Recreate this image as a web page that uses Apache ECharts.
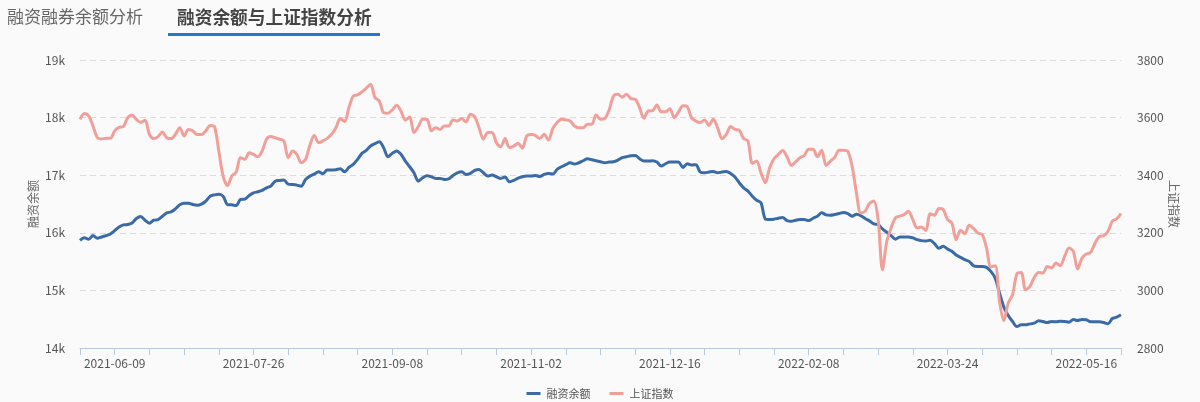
<!DOCTYPE html>
<html>
<head>
<meta charset="utf-8">
<script src="https://cdn.jsdelivr.net/npm/echarts@6/dist/echarts.min.js"></script>
<style>
  html, body { margin: 0; padding: 0; background: #fafafa; }
  body { width: 1200px; height: 402px; position: relative; overflow: hidden;
         font-family: "Microsoft YaHei", "Noto Sans CJK SC", sans-serif; }
  #chart { position: absolute; left: 0; top: 0; width: 1200px; height: 402px; }
  .tab { position: absolute; top: 6px; line-height: 20px; white-space: nowrap; }
  #tab1 { left: 7px; font-size: 17px; color: #666; }
  #tab2 { left: 177px; font-size: 17.7px; color: #444; font-weight: bold; }
  #tabline { position: absolute; left: 168px; top: 33px; width: 212px; height: 3px; background: #2379c8; }
</style>
</head>
<body>
<div id="chart"></div>
<div class="tab" id="tab1">融资融券余额分析</div>
<div class="tab" id="tab2">融资余额与上证指数分析</div>
<div id="tabline"></div>
<script>
// Trading days by month (day numbers)
const tradingDays = [
  ["2021-05", [28, 31]],
  ["2021-06", [1, 2, 3, 4, 7, 8, 9, 10, 11, 15, 16, 17, 18, 21, 22, 23, 24, 25, 28, 29, 30]],
  ["2021-07", [1, 2, 5, 6, 7, 8, 9, 12, 13, 14, 15, 16, 19, 20, 21, 22, 23, 26, 27, 28, 29, 30]],
  ["2021-08", [2, 3, 4, 5, 6, 9, 10, 11, 12, 13, 16, 17, 18, 19, 20, 23, 24, 25, 26, 27, 30, 31]],
  ["2021-09", [1, 2, 3, 6, 7, 8, 9, 10, 13, 14, 15, 16, 17, 22, 23, 24, 27, 28, 29, 30]],
  ["2021-10", [8, 11, 12, 13, 14, 15, 18, 19, 20, 21, 22, 25, 26, 27, 28, 29]],
  ["2021-11", [1, 2, 3, 4, 5, 8, 9, 10, 11, 12, 15, 16, 17, 18, 19, 22, 23, 24, 25, 26, 29, 30]],
  ["2021-12", [1, 2, 3, 6, 7, 8, 9, 10, 13, 14, 15, 16, 17, 20, 21, 22, 23, 24, 27, 28, 29, 30, 31]],
  ["2022-01", [4, 5, 6, 7, 10, 11, 12, 13, 14, 17, 18, 19, 20, 21, 24, 25, 26, 27, 28]],
  ["2022-02", [7, 8, 9, 10, 11, 14, 15, 16, 17, 18, 21, 22, 23, 24, 25, 28]],
  ["2022-03", [1, 2, 3, 4, 7, 8, 9, 10, 11, 14, 15, 16, 17, 18, 21, 22, 23, 24, 25, 28, 29, 30, 31]],
  ["2022-04", [1, 6, 7, 8, 11, 12, 13, 14, 15, 18, 19, 20, 21, 22, 25, 26, 27, 28, 29]],
  ["2022-05", [5, 6, 9, 10, 11, 12, 13, 16, 17, 18, 19, 20, 23, 24, 25, 26]]
];
const categories = [];
tradingDays.forEach(function (m) {
  m[1].forEach(function (d) { categories.push(m[0] + "-" + (d < 10 ? "0" + d : "" + d)); });
});

// 融资余额
const marginBalance = [
  15870, 15916, 15887, 15951, 15905, 15928, 15951, 15980, 16038, 16102,
  16137, 16143, 16172, 16247, 16282, 16218, 16166, 16218, 16230, 16288,
  16346, 16363, 16416, 16485, 16514, 16514, 16491, 16479, 16497, 16549,
  16636, 16659, 16671, 16636, 16491, 16485, 16474, 16578, 16584, 16648,
  16694, 16712, 16735, 16781, 16810, 16897, 16909, 16915, 16845, 16839,
  16828, 16810, 16926, 16984, 17019, 17060, 17025, 17089, 17089, 17095,
  17112, 17060, 17135, 17187, 17275, 17379, 17431, 17507, 17547, 17582,
  17478, 17321, 17379, 17420, 17362, 17245, 17147, 17042, 16897, 16955,
  16990, 16973, 16944, 16944, 16926, 16938, 16996, 17042, 17060, 17013,
  17031, 17083, 17100, 17042, 16984, 17002, 16973, 16944, 16967, 16886,
  16909, 16949, 16973, 16984, 16984, 16996, 16978, 17013, 17031, 17019,
  17100, 17147, 17182, 17216, 17193, 17216, 17251, 17286, 17269, 17251,
  17234, 17216, 17228, 17234, 17263, 17304, 17321, 17338, 17344, 17286,
  17245, 17245, 17251, 17228, 17158, 17199, 17228, 17228, 17228, 17135,
  17199, 17176, 17182, 17054, 17042, 17054, 17066, 17042, 17054, 17066,
  17031, 16967, 16868, 16781, 16723, 16636, 16566, 16520, 16241, 16230,
  16236, 16253, 16265, 16212, 16201, 16218, 16230, 16230, 16212, 16253,
  16288, 16346, 16311, 16305, 16317, 16334, 16352, 16334, 16288, 16323,
  16299, 16247, 16207, 16154, 16143, 16067, 16009, 15951, 15887, 15928,
  15928, 15928, 15911, 15882, 15864, 15858, 15870, 15812, 15731, 15765,
  15719, 15678, 15614, 15574, 15533, 15504, 15429, 15417, 15417, 15400,
  15330, 15214, 14953, 14709, 14564, 14460, 14372, 14402, 14402, 14419,
  14431, 14471, 14460, 14442, 14460, 14454, 14466, 14460, 14448, 14494,
  14477, 14494, 14489, 14454, 14454, 14454, 14442, 14419, 14512, 14535,
  14576
];

// 上证指数
const shIndex = [
  3594, 3614, 3606, 3571, 3530, 3526, 3528, 3528, 3554, 3566,
  3569, 3600, 3609, 3594, 3583, 3591, 3542, 3527, 3534, 3550,
  3530, 3527, 3542, 3565, 3536, 3559, 3554, 3541, 3541, 3554,
  3573, 3569, 3484, 3397, 3364, 3397, 3411, 3461, 3455, 3478,
  3472, 3464, 3484, 3525, 3534, 3530, 3525, 3519, 3461, 3484,
  3472, 3443, 3455, 3504, 3538, 3513, 3519, 3528, 3542, 3565,
  3597, 3586, 3635, 3675, 3679, 3689, 3702, 3716, 3670, 3658,
  3617, 3615, 3627, 3643, 3623, 3591, 3602, 3548, 3569, 3594,
  3594, 3554, 3565, 3559, 3571, 3571, 3592, 3588, 3597, 3585,
  3612, 3603, 3565, 3525, 3548, 3548, 3513, 3499, 3527, 3496,
  3501, 3511, 3494, 3536, 3541, 3538, 3527, 3542, 3522, 3562,
  3583, 3594, 3592, 3588, 3571, 3565, 3565, 3577, 3577, 3609,
  3594, 3597, 3627, 3675, 3681, 3671, 3681, 3666, 3664, 3635,
  3598, 3623, 3624, 3644, 3620, 3620, 3631, 3600, 3620, 3641,
  3638, 3599, 3588, 3583, 3592, 3573, 3594, 3565, 3527, 3542,
  3569, 3559, 3556, 3527, 3519, 3441, 3449, 3408, 3374, 3426,
  3457, 3472, 3486, 3464, 3434, 3446, 3461, 3469, 3490, 3490,
  3464, 3487, 3434, 3449, 3462, 3487, 3487, 3483, 3432, 3339,
  3269, 3275, 3302, 3310, 3246, 3072, 3170, 3217, 3252, 3258,
  3263, 3275, 3246, 3217, 3220, 3208, 3266, 3261, 3284, 3281,
  3246, 3234, 3176, 3209, 3197, 3226, 3215, 3199, 3194, 3147,
  3081, 3086, 2961, 2895, 2956, 2985, 3058, 3062, 3002, 3014,
  3045, 3062, 3060, 3083, 3078, 3095, 3086, 3118, 3147, 3136,
  3074, 3112, 3126, 3132, 3164, 3187, 3190, 3205, 3241, 3248,
  3267
];

const seriesNames = ["融资余额", "上证指数"];
const axisNames = ["融资余额", "上证指数"];

const FONT = '"Microsoft YaHei", "Noto Sans CJK SC", sans-serif';
const chart = echarts.init(document.getElementById('chart'), null, { renderer: 'canvas' });
chart.setOption({
  backgroundColor: '#fafafa',
  animation: false,
  textStyle: { fontFamily: FONT },
  grid: { left: 80, right: 79, top: 60, height: 288 },
  legend: {
    data: seriesNames,
    top: 383,
    left: 'center',
    icon: 'rect',
    itemWidth: 14,
    itemHeight: 3,
    itemGap: 19,
    textStyle: { fontSize: 11, color: '#555', fontFamily: FONT, padding: [0, 0, 0, 1] }
  },
  xAxis: {
    type: 'category',
    data: categories,
    boundaryGap: false,
    axisLine: { lineStyle: { color: '#b7cade', width: 1 } },
    axisTick: {
      show: true,
      length: 7,
      interval: function (idx) { return idx % 8 === 0; },
      lineStyle: { color: '#b7cade' }
    },
    axisLabel: {
      interval: function (idx) { return idx % 32 === 8; },
      color: '#555',
      fontSize: 12,
      margin: 9,
      fontFamily: FONT
    },
    splitLine: { show: false }
  },
  yAxis: [
    {
      type: 'value',
      name: axisNames[0],
      nameLocation: 'middle',
      nameGap: 41,
      nameMoveOverlap: false,
      nameTextStyle: { color: '#666', fontSize: 12, fontFamily: FONT },
      min: 14000, max: 19000, interval: 1000,
      axisLine: { show: false },
      axisTick: { show: false },
      axisLabel: {
        color: '#555', fontSize: 12, margin: 15, fontFamily: FONT,
        formatter: function (v) { return (v / 1000) + 'k'; }
      },
      splitLine: { show: true, lineStyle: { color: '#dcdcdc', type: [6, 4], width: 1 } }
    },
    {
      type: 'value',
      name: axisNames[1],
      nameLocation: 'middle',
      nameGap: 47,
      nameRotate: -90,
      nameMoveOverlap: false,
      nameTextStyle: { color: '#666', fontSize: 12, fontFamily: FONT },
      min: 2800, max: 3800, interval: 200,
      axisLine: { show: false },
      axisTick: { show: false },
      axisLabel: {
        color: '#555', fontSize: 12, margin: 16, fontFamily: FONT,
        formatter: function (v) { return String(v); }
      },
      splitLine: { show: false }
    }
  ],
  series: [
    {
      name: seriesNames[0],
      type: 'line',
      yAxisIndex: 0,
      data: marginBalance,
      smooth: 0.3,
      symbol: 'none',
      lineStyle: { color: '#3b6ba6', width: 3 },
      itemStyle: { color: '#3b6ba6' }
    },
    {
      name: seriesNames[1],
      type: 'line',
      yAxisIndex: 1,
      data: shIndex,
      smooth: 0.3,
      symbol: 'none',
      lineStyle: { color: '#f19f99', width: 3 },
      itemStyle: { color: '#f19f99' }
    }
  ]
});
</script>
</body>
</html>
